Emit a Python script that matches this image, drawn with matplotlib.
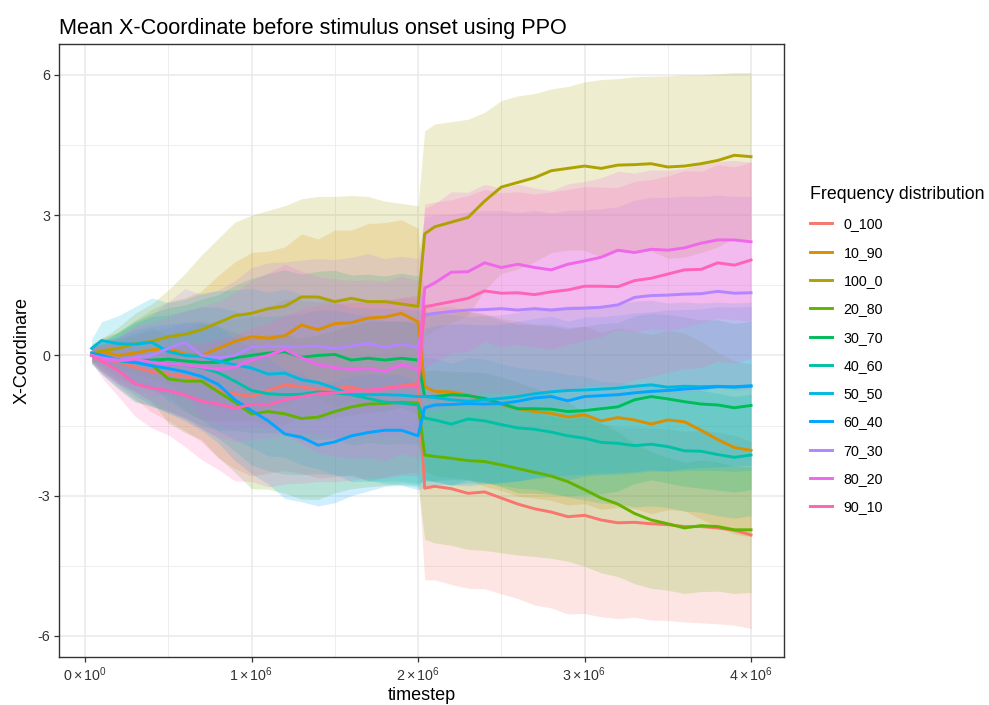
import numpy as np
import matplotlib
matplotlib.use("Agg")
import matplotlib.pyplot as plt
from matplotlib.lines import Line2D
from matplotlib.ticker import FixedLocator

plt.rcParams['font.family'] = ['Liberation Sans', 'DejaVu Sans']
plt.rcParams['mathtext.fontset'] = 'custom'
plt.rcParams['mathtext.rm'] = 'Liberation Sans'
plt.rcParams['mathtext.it'] = 'Liberation Sans:italic'
plt.rcParams['axes.unicode_minus'] = False

# ---------------- data ----------------
t_million = [0.04, 0.1, 0.2, 0.3, 0.4, 0.5, 0.6, 0.7, 0.8, 0.9, 1.0, 1.1, 1.2, 1.3, 1.4, 1.5, 1.6, 1.7, 1.8, 1.9, 2.0,
             2.04, 2.1, 2.2, 2.3, 2.4, 2.5, 2.6, 2.7, 2.8, 2.9, 3.0, 3.1, 3.2, 3.3, 3.4, 3.5, 3.6, 3.7, 3.8, 3.9, 4.0]
timestep = np.array(t_million) * 1e6

categories = ["0_100", "10_90", "100_0", "20_80", "30_70", "40_60", "50_50", "60_40", "70_30", "80_20", "90_10"]
colors = ["#F8766D", "#DB8E00", "#AEA200", "#64B200", "#00BD5C", "#00C1A7",
          "#00BADE", "#00A6FF", "#B385FF", "#EF67EB", "#FF63B6"]

mean_0_100 = [0.0, -0.05, -0.15, -0.25, -0.35, -0.4, -0.45, -0.55, -0.75, -0.82, -0.88, -0.75, -0.63, -0.67, -0.74, -0.7, -0.68, -0.77, -0.7, -0.65, -0.6,
              -2.84, -2.8, -2.85, -2.95, -2.92, -3.05, -3.18, -3.28, -3.35, -3.45, -3.42, -3.52, -3.58, -3.57, -3.6, -3.62, -3.66, -3.66, -3.69, -3.74, -3.84]
mean_10_90 = [0.05, 0.08, 0.0, 0.05, 0.12, 0.15, 0.03, 0.0, 0.15, 0.3, 0.4, 0.37, 0.42, 0.65, 0.55, 0.68, 0.7, 0.8, 0.82, 0.9, 0.72,
              -0.67, -0.77, -0.78, -0.85, -0.95, -1.05, -1.14, -1.2, -1.24, -1.32, -1.27, -1.4, -1.33, -1.38, -1.47, -1.38, -1.42, -1.6, -1.8, -1.97, -2.03]
mean_100_0 = [0.05, 0.1, 0.15, 0.25, 0.3, 0.4, 0.45, 0.55, 0.7, 0.85, 0.9, 1.0, 1.05, 1.25, 1.25, 1.15, 1.22, 1.15, 1.15, 1.1, 1.05,
              2.6, 2.75, 2.85, 2.95, 3.3, 3.6, 3.7, 3.8, 3.95, 4.0, 4.05, 4.0, 4.07, 4.08, 4.1, 4.03, 4.05, 4.1, 4.17, 4.28, 4.25]
mean_20_80 = [0.02, -0.05, -0.1, -0.15, -0.2, -0.5, -0.55, -0.55, -0.78, -1.0, -1.25, -1.2, -1.25, -1.35, -1.32, -1.2, -1.1, -1.04, -1.03, -1.0, -1.02,
              -2.13, -2.16, -2.2, -2.25, -2.27, -2.34, -2.42, -2.5, -2.58, -2.7, -2.87, -3.05, -3.18, -3.38, -3.52, -3.6, -3.69, -3.64, -3.66, -3.73, -3.73]
mean_30_70 = [0.0, -0.05, -0.1, -0.12, -0.1, -0.08, -0.12, -0.15, -0.15, -0.05, 0.0, 0.05, 0.08, -0.04, 0.0, 0.02, -0.1, -0.06, -0.1, -0.06, -0.1,
              -0.88, -0.88, -0.84, -0.86, -0.92, -1.03, -1.14, -1.14, -1.15, -1.2, -1.18, -1.14, -1.1, -0.95, -0.88, -0.93, -0.99, -1.04, -1.06, -1.12, -1.07]
mean_40_60 = [0.0, -0.05, -0.12, -0.15, -0.12, -0.18, -0.2, -0.26, -0.37, -0.55, -0.75, -0.82, -0.84, -0.83, -0.78, -0.8, -0.84, -0.92, -1.0, -1.02, -1.06,
              -1.34, -1.38, -1.47, -1.36, -1.4, -1.48, -1.55, -1.58, -1.64, -1.72, -1.77, -1.86, -1.88, -1.93, -1.9, -1.95, -2.04, -2.05, -2.12, -2.18, -2.13]
mean_50_50 = [0.15, 0.32, 0.25, 0.24, 0.28, 0.08, 0.0, -0.02, -0.12, -0.2, -0.27, -0.4, -0.38, -0.52, -0.58, -0.7, -0.84, -0.84, -0.84, -0.85, -0.88,
              -0.88, -0.9, -0.95, -0.98, -0.95, -0.92, -0.88, -0.82, -0.78, -0.75, -0.74, -0.72, -0.7, -0.66, -0.63, -0.68, -0.66, -0.67, -0.66, -0.68, -0.66]
mean_60_40 = [0.05, 0.0, -0.1, -0.15, -0.22, -0.28, -0.35, -0.45, -0.62, -0.95, -1.18, -1.4, -1.68, -1.75, -1.92, -1.85, -1.72, -1.65, -1.6, -1.6, -1.72,
              -1.12, -1.06, -1.05, -1.03, -1.04, -1.03, -0.98, -0.91, -0.88, -0.97, -0.88, -0.86, -0.84, -0.8, -0.77, -0.75, -0.72, -0.7, -0.67, -0.67, -0.65]
mean_70_30 = [0.0, -0.05, -0.1, -0.05, 0.0, 0.15, 0.28, 0.0, -0.05, 0.0, 0.18, 0.2, 0.18, 0.19, 0.2, 0.15, 0.2, 0.26, 0.17, 0.24, 0.17,
              0.87, 0.9, 0.94, 0.97, 0.98, 1.0, 0.97, 1.0, 0.97, 1.0, 1.01, 1.03, 1.08, 1.24, 1.28, 1.29, 1.31, 1.32, 1.37, 1.33, 1.34]
mean_80_20 = [0.0, -0.08, -0.12, -0.08, -0.15, -0.18, -0.2, -0.25, -0.3, -0.25, -0.1, 0.0, 0.13, -0.05, -0.2, -0.26, -0.3, -0.28, -0.34, -0.2, -0.3,
              1.44, 1.55, 1.78, 1.79, 1.98, 1.88, 1.95, 1.88, 1.83, 1.95, 2.02, 2.1, 2.25, 2.2, 2.27, 2.25, 2.3, 2.4, 2.47, 2.47, 2.43]
mean_90_10 = [0.0, -0.12, -0.33, -0.6, -0.7, -0.75, -0.85, -0.98, -1.04, -1.13, -1.05, -1.06, -0.95, -0.88, -0.82, -0.8, -0.77, -0.74, -0.72, -0.67, -0.67,
              1.04, 1.08, 1.15, 1.22, 1.38, 1.33, 1.34, 1.3, 1.36, 1.4, 1.48, 1.48, 1.47, 1.6, 1.65, 1.74, 1.83, 1.84, 1.98, 1.93, 2.04]

sd_0_100 = [0.15, 0.3, 0.5, 0.68, 0.86, 1.0, 1.16, 1.3, 1.44, 1.6, 1.7, 1.77, 1.83, 1.85, 1.88, 1.9, 1.86, 1.92, 1.9, 1.88, 1.9,
            1.96, 2.0, 2.05, 2.03, 2.07, 2.05, 2.02, 2.06, 2.05, 2.08, 2.1, 2.07, 2.05, 2.03, 2.06, 2.05, 2.04, 2.06, 2.05, 2.03, 2.0]
sd_10_90 = [0.15, 0.3, 0.5, 0.7, 0.86, 1.0, 1.2, 1.38, 1.56, 1.7, 1.8, 1.86, 1.9, 1.95, 1.94, 2.0, 1.98, 2.02, 2.02, 2.0, 2.0,
            1.8, 1.8, 1.83, 1.8, 1.85, 1.84, 1.87, 1.85, 1.86, 1.88, 1.9, 1.89, 1.92, 1.9, 1.91, 1.92, 1.9, 1.9, 1.86, 1.85, 1.85]
sd_100_0 = [0.2, 0.25, 0.45, 0.65, 0.8, 1.0, 1.3, 1.6, 1.8, 2.0, 2.1, 2.1, 2.15, 2.1, 2.15, 2.25, 2.2, 2.25, 2.15, 2.15, 2.15,
            2.2, 2.2, 2.15, 2.1, 1.9, 1.85, 1.85, 1.8, 1.75, 1.75, 1.8, 1.9, 1.85, 1.88, 1.87, 1.95, 1.95, 1.9, 1.85, 1.77, 1.8]
sd_20_80 = [0.15, 0.28, 0.45, 0.62, 0.78, 0.95, 1.1, 1.25, 1.4, 1.5, 1.6, 1.66, 1.7, 1.72, 1.76, 1.74, 1.75, 1.77, 1.75, 1.74, 1.75,
            1.8, 1.85, 1.86, 1.9, 1.9, 1.88, 1.85, 1.8, 1.76, 1.7, 1.64, 1.6, 1.55, 1.5, 1.46, 1.42, 1.4, 1.41, 1.38, 1.36, 1.34]
sd_30_70 = [0.18, 0.35, 0.6, 0.85, 1.0, 1.1, 1.2, 1.35, 1.45, 1.55, 1.65, 1.7, 1.75, 1.78, 1.8, 1.8, 1.82, 1.8, 1.8, 1.82, 1.8,
            1.8, 1.8, 1.82, 1.8, 1.79, 1.78, 1.8, 1.81, 1.82, 1.8, 1.8, 1.82, 1.8, 1.79, 1.78, 1.8, 1.81, 1.8, 1.82, 1.8, 1.8]
sd_40_60 = [0.18, 0.35, 0.6, 0.85, 0.95, 1.05, 1.15, 1.3, 1.4, 1.5, 1.6, 1.65, 1.7, 1.72, 1.75, 1.76, 1.74, 1.75, 1.74, 1.75, 1.75,
            1.3, 1.32, 1.3, 1.31, 1.32, 1.3, 1.29, 1.28, 1.3, 1.31, 1.32, 1.3, 1.3, 1.31, 1.32, 1.3, 1.29, 1.3, 1.31, 1.3, 1.3]
sd_50_50 = [0.2, 0.4, 0.6, 0.8, 0.95, 1.05, 1.2, 1.35, 1.5, 1.6, 1.7, 1.75, 1.8, 1.82, 1.85, 1.84, 1.86, 1.85, 1.85, 1.84, 1.85,
            1.8, 1.8, 1.82, 1.81, 1.8, 1.79, 1.8, 1.82, 1.8, 1.81, 1.8, 1.79, 1.8, 1.82, 1.81, 1.8, 1.8, 1.79, 1.8, 1.8, 1.8]
sd_60_40 = [0.15, 0.3, 0.5, 0.7, 0.85, 0.95, 1.05, 1.15, 1.25, 1.3, 1.35, 1.35, 1.38, 1.38, 1.3, 1.3, 1.28, 1.25, 1.2, 1.18, 1.15,
            1.7, 1.7, 1.72, 1.7, 1.69, 1.7, 1.71, 1.7, 1.72, 1.7, 1.7, 1.69, 1.7, 1.71, 1.7, 1.72, 1.7, 1.7, 1.71, 1.7, 1.7]
sd_70_30 = [0.15, 0.3, 0.5, 0.7, 0.85, 1.0, 1.15, 1.3, 1.45, 1.6, 1.7, 1.78, 1.82, 1.85, 1.87, 1.9, 1.9, 1.92, 1.9, 1.88, 1.9,
            2.1, 2.1, 2.08, 2.1, 2.12, 2.1, 2.09, 2.1, 2.08, 2.1, 2.1, 2.11, 2.1, 2.08, 2.1, 2.09, 2.1, 2.08, 2.06, 2.07, 2.06]
sd_80_20 = [0.15, 0.3, 0.5, 0.7, 0.85, 1.0, 1.15, 1.3, 1.45, 1.6, 1.7, 1.76, 1.82, 1.86, 1.88, 1.9, 1.9, 1.9, 1.92, 1.9, 1.9,
            1.7, 1.7, 1.72, 1.7, 1.68, 1.7, 1.71, 1.7, 1.7, 1.72, 1.7, 1.7, 1.69, 1.7, 1.7, 1.71, 1.7, 1.7, 1.68, 1.7, 1.7]
sd_90_10 = [0.15, 0.35, 0.55, 0.7, 0.85, 0.95, 1.1, 1.25, 1.4, 1.55, 1.65, 1.75, 1.8, 1.85, 1.88, 1.9, 1.9, 1.88, 1.9, 1.9, 1.9,
            2.2, 2.2, 2.18, 2.2, 2.17, 2.15, 2.16, 2.15, 2.14, 2.15, 2.13, 2.12, 2.12, 2.12, 2.11, 2.1, 2.12, 2.1, 2.1, 2.1, 2.1]

means = [mean_0_100, mean_10_90, mean_100_0, mean_20_80, mean_30_70, mean_40_60,
         mean_50_50, mean_60_40, mean_70_30, mean_80_20, mean_90_10]
sds = [sd_0_100, sd_10_90, sd_100_0, sd_20_80, sd_30_70, sd_40_60,
       sd_50_50, sd_60_40, sd_70_30, sd_80_20, sd_90_10]

x_ticks = [0, 1e6, 2e6, 3e6, 4e6]
x_tick_labels = [r"$0\times10^{0}$", r"$1\times10^{6}$", r"$2\times10^{6}$", r"$3\times10^{6}$", r"$4\times10^{6}$"]
y_ticks = [-6, -3, 0, 3, 6]
y_tick_labels = ["-6", "-3", "0", "3", "6"]

# ---------------- figure ----------------
W, H = 989, 705
fig = plt.figure(figsize=(W / 100, H / 100), dpi=100)
ax = fig.add_axes([58.7 / W, (H - 657) / H, (784 - 58.7) / W, (657 - 44) / H])

for m, s, c in zip(means, sds, colors):
    m = np.array(m); s = np.array(s)
    ax.fill_between(timestep, m - s, m + s, color=c, alpha=0.19, linewidth=0)
for m, c in zip(means, colors):
    ax.plot(timestep, m, color=c, linewidth=2.1, solid_joinstyle='round', zorder=3)

ax.set_xlim(-0.158e6, 4.198e6)
ax.set_ylim(-6.45, 6.66)

ax.set_xticks(x_ticks)
ax.set_xticklabels(x_tick_labels)
ax.set_yticks(y_ticks)
ax.set_yticklabels(y_tick_labels)
ax.xaxis.set_minor_locator(FixedLocator([0.5e6, 1.5e6, 2.5e6, 3.5e6]))
ax.yaxis.set_minor_locator(FixedLocator([-4.5, -1.5, 1.5, 4.5]))
ax.set_axisbelow(True)
ax.grid(which='major', color='#EBEBEB', linewidth=1.2)
ax.grid(which='minor', color='#EBEBEB', linewidth=0.6)
ax.tick_params(which='major', length=3.8, width=0.9, color='#333333',
               labelcolor='#333333', labelsize=10.3, pad=2.4)
ax.tick_params(which='minor', length=0)
for sp in ax.spines.values():
    sp.set_color('#333333')
    sp.set_linewidth(1.0)

ax.set_xlabel("timestep", fontsize=13, color='black', labelpad=2.0)
ax.set_ylabel("X-Coordinare", fontsize=13, color='black', labelpad=5)
ax.set_title("Mean X-Coordinate before stimulus onset using PPO", loc='left',
             fontsize=15.6, color='black', pad=7)

handles = [Line2D([0], [0], color=c, linewidth=2.1) for c in colors]
leg = fig.legend(handles, categories, loc='upper left',
                 bbox_to_anchor=(800 / W, 1 - 176 / H), frameon=False,
                 fontsize=10.3, title="Frequency distribution", title_fontsize=12.8,
                 handlelength=1.55, handletextpad=0.8, labelspacing=1.0,
                 borderpad=0.2, alignment='left')

fig.savefig("out.png", dpi=100)
